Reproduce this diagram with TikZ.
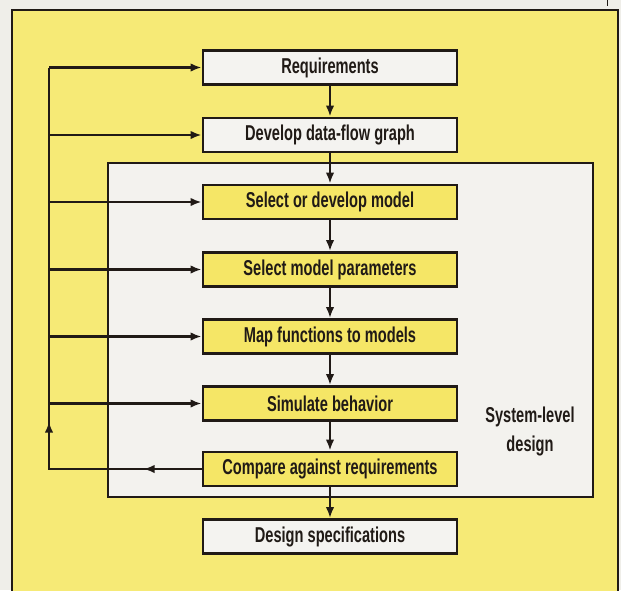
\documentclass[tikz,border=0pt]{standalone}
\usepackage{fontspec}
\setmainfont{Liberation Sans}[FakeStretch=0.68]
\usetikzlibrary{arrows.meta,decorations.markings}
\definecolor{pagebg}{HTML}{EFEEE9}
\definecolor{panel}{HTML}{F6EA76}
\definecolor{boxyel}{HTML}{F5E666}
\definecolor{boxwht}{HTML}{F4F3F0}
\definecolor{sysbg}{HTML}{F3F2EE}
\definecolor{ink}{HTML}{201A16}
\tikzset{
  stepbox/.style={draw=ink, line width=2.8pt, minimum width=254pt, minimum height=34pt,
    inner sep=0pt, font=\fontsize{21.5}{23}\selectfont\bfseries, text=ink},
  whitebox/.style={stepbox, fill=boxwht},
  yelbox/.style={stepbox, fill=boxyel},
  arr/.style={draw=ink, line width=2.3pt, -{Latex[length=11pt,width=8.5pt]}},
  ln/.style={draw=ink, line width=2.3pt},
}
\begin{document}
\begin{tikzpicture}[x=1pt,y=-1pt]
\useasboundingbox (0,0) rectangle (621,590);
\clip (0,0) rectangle (621,590);
\fill[pagebg] (0,0) rectangle (621,590);
\draw[ink, line width=1pt] (607,0) -- (607,6);
\draw[draw=ink, line width=2.4pt, fill=panel] (12,10) rectangle (618,610);
\node[draw=ink, line width=2.6pt, fill=sysbg, minimum width=485pt, minimum height=334pt, inner sep=0pt] (sys) at (350.5,330) {};
\node[font=\fontsize{21.5}{29}\selectfont\bfseries, text=ink, align=center] (syslabel) at (530,431) {System-level\\design};

\node[whitebox] (req) at (330,67.5) {Requirements};
\node[whitebox] (dev) at (330,135) {Develop data-flow graph};
\node[yelbox] (sel) at (330,202) {Select or develop model};
\node[yelbox] (par) at (330,269.5) {Select model parameters};
\node[yelbox] (map) at (330,336.5) {Map functions to models};
\node[yelbox] (sim) at (330,403.5) {Simulate behavior};
\node[yelbox] (cmp) at (330,469) {Compare against requirements};
\node[whitebox] (spec) at (330,536.5) {Design specifications};

\foreach \a/\b in {req/dev,dev/sel,sel/par,par/map,map/sim,sim/cmp,cmp/spec}
  \draw[arr] (\a.south) -- (\b.north);

\coordinate (fbbot) at (49,469);
\coordinate (fbtop) at (49,67.5);
\draw[ln, postaction={decorate}, decoration={markings,
   mark=at position 58pt with {\arrow{Latex[length=11pt,width=8.5pt]}},
   mark=at position 200pt with {\arrow{Latex[length=11pt,width=8.5pt]}}}]
  (cmp.west) -- (fbbot) -- (fbtop);
\foreach \b in {req,dev,sel,par,map,sim}
  \draw[arr] (fbtop |- \b.west) -- (\b.west);
\end{tikzpicture}
\end{document}
